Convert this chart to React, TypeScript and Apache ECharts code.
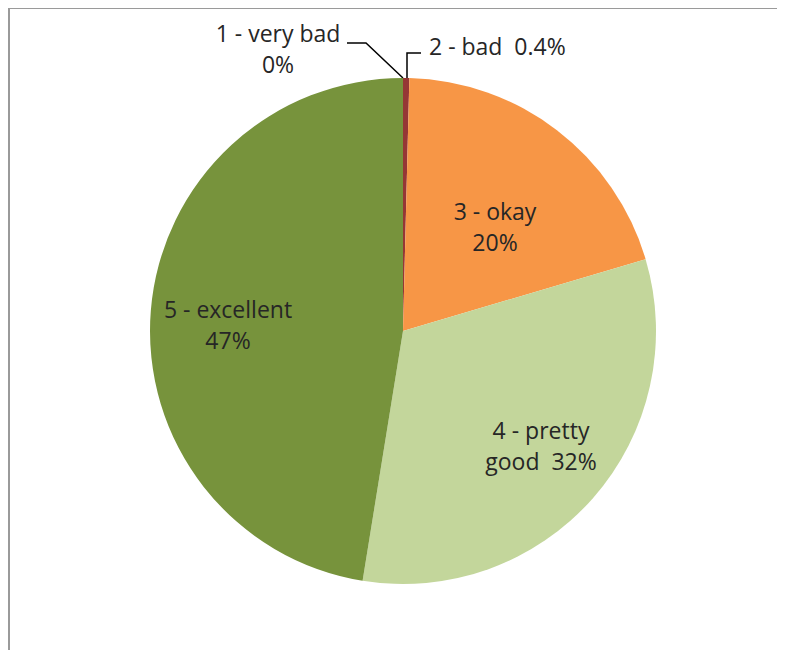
import React, { useEffect, useRef } from "react";
import * as echarts from "echarts";

// ---- data ----
const categories = ["1 - very bad", "2 - bad", "3 - okay", "4 - pretty good", "5 - excellent"];
const shares = [0, 0.4, 20.0, 32.1, 47.4];
const sliceColors = ["#7F7F7F", "#953735", "#F79646", "#C3D69B", "#77933C"];

function pctText(v: number): string {
  return v > 0 && v < 1 ? v.toFixed(1) + "%" : Math.round(v) + "%";
}

function labelText(i: number): string {
  const name = categories[i];
  const p = pctText(shares[i]);
  if (i === 1) return `${name}  ${p}`;
  if (i === 3) return name.replace(" good", "\ngood") + "  " + p;
  return `${name}\n${p}`;
}

// ---- layout (label placement, px within the chart) ----
const labelSpots: any[] = [
  { x: 270, y: 42, align: "center", line: [[395, 72], [358, 37], [339, 37]] },
  { x: 421, y: 40, align: "left", line: [[399, 72], [399, 47], [413, 47]] },
  { x: 487, y: 220, align: "center" },
  { x: 533, y: 439, align: "center" },
  { x: 220, y: 318, align: "center" },
];

export default function App() {
  const ref = useRef<HTMLDivElement>(null);
  useEffect(() => {
    if (!ref.current) return;
    const chart = echarts.init(ref.current, undefined, { renderer: "svg" });
    chart.setOption({
      animation: false,
      backgroundColor: "#ffffff",
      graphic: [
        {
          type: "rect",
          shape: { x: 1, y: 2, width: 2000, height: 2000 },
          style: { fill: "none", stroke: "#9a9a9a", lineWidth: 2 },
          silent: true,
          z: 100,
        },
      ],
      series: [
        {
          type: "pie",
          center: [395, 325],
          radius: 253,
          startAngle: 90,
          clockwise: true,
          avoidLabelOverlap: false,
          silent: true,
          itemStyle: { borderWidth: 0 },
          label: {
            show: true,
            formatter: (p: any) => labelText(p.dataIndex),
            fontFamily: "Open Sans",
            fontSize: 23,
            lineHeight: 31,
            color: "#262626",
            textBorderWidth: 0,
            align: "center",
          },
          labelLine: { lineStyle: { color: "#000000", width: 1.5 } },
          labelLayout: (p: any) => {
            const s = labelSpots[p.dataIndex];
            const out: any = { x: s.x, y: s.y, align: s.align, verticalAlign: "middle" };
            if (s.line) out.labelLinePoints = s.line;
            return out;
          },
          data: categories.map((n, i) => ({
            name: n,
            value: shares[i],
            itemStyle: { color: sliceColors[i] },
            label: { position: i < 2 ? "outside" : "inside" },
            labelLine: { show: i < 2, length: 10, length2: 10 },
          })),
        },
      ],
    });
    return () => chart.dispose();
  }, []);
  return (
    <div style={{ marginTop: -2, width: 777, height: 644, overflow: "hidden" }}>
      <div ref={ref} style={{ width: 777, height: 644 }} />
    </div>
  );
}
